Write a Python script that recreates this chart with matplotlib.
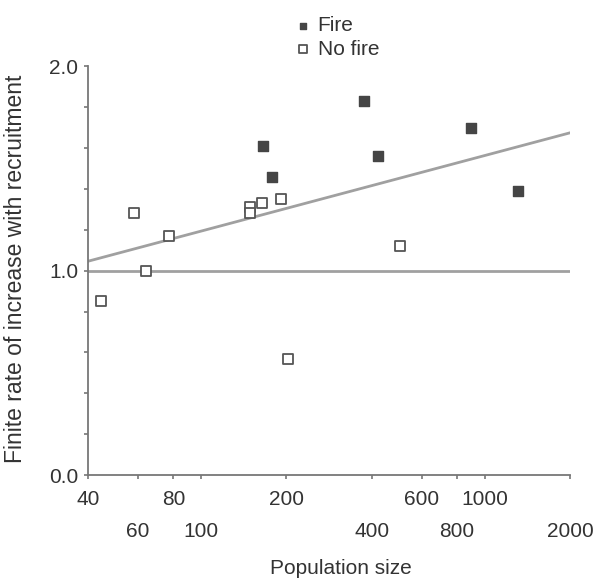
import matplotlib
matplotlib.use("Agg")
import matplotlib.pyplot as plt
import numpy as np

plt.rcParams['font.family'] = ['Liberation Sans', 'DejaVu Sans']

# population size and finite rate of increase
fire_pop = [166, 178, 377, 420, 897, 1312]
fire_rate = [1.61, 1.46, 1.83, 1.56, 1.70, 1.39]

nofire_pop = [44.6, 58.0, 64.1, 77.1, 148.6, 148.6, 164.7, 192, 202, 504]
nofire_rate = [0.85, 1.28, 1.00, 1.17, 1.31, 1.28, 1.33, 1.35, 0.57, 1.12]

# fitted line: rate = a + b*log10(pop)
fit_a = 0.453
fit_b = 0.370

upper_ticks = [40, 80, 200, 600, 1000]
lower_ticks = [60, 100, 400, 800, 2000]

grey_txt = '#333333'
line_col = '#a0a0a0'
axis_col = '#777777'
fs = 15

fig = plt.figure(figsize=(6.02, 5.81), dpi=100)
ax = fig.add_axes([0.146, 0.1824, 0.801, 0.7036])

xs = np.array([40, 2000])
ax.plot(xs, fit_a + fit_b*np.log10(xs), color=line_col, lw=2, zorder=1)
ax.axhline(1.0, color=line_col, lw=2, zorder=1)

ax.scatter(fire_pop, fire_rate, marker='s', s=50, c='#454545', edgecolors='#454545',
           linewidths=1, zorder=3, label='Fire')
ax.scatter(nofire_pop, nofire_rate, marker='s', s=58, c='white', edgecolors='#555555',
           linewidths=1.3, zorder=3, label='No fire')

ax.set_xscale('log')
ax.set_xlim(40, 2000)
ax.set_ylim(0, 2.0)

ax.set_xticks(upper_ticks)
ax.set_xticklabels([str(t) for t in upper_ticks])
ax.set_xticks(lower_ticks, minor=True)
ax.set_xticklabels([str(t) for t in lower_ticks], minor=True)
ax.tick_params(axis='x', which='major', length=3, width=1.2, color=axis_col,
               labelsize=fs, labelcolor=grey_txt, pad=7.5)
ax.tick_params(axis='x', which='minor', length=3, width=1.2, color=axis_col,
               labelsize=fs, labelcolor=grey_txt, pad=30.5)

ax.set_yticks([0.0, 1.0, 2.0])
ax.set_yticklabels(['0.0', '1.0', '2.0'])
ax.set_yticks(np.arange(0.2, 2.0, 0.2), minor=True)
ax.tick_params(axis='y', which='both', length=3, width=1.2, color=axis_col,
               labelsize=fs, labelcolor=grey_txt, pad=4)

for s in ['top', 'right']:
    ax.spines[s].set_visible(False)
for s in ['left', 'bottom']:
    ax.spines[s].set_color(axis_col)
    ax.spines[s].set_linewidth(1.3)

ax.set_xlabel('Population size', fontsize=fs, color=grey_txt)
ax.xaxis.set_label_coords(0.525, -0.205)
ax.set_ylabel('Finite rate of increase with recruitment', fontsize=16.5, color=grey_txt)
ax.yaxis.set_label_coords(-0.127, 0.505)

leg = ax.legend(loc='upper left', bbox_to_anchor=(0.462, 0.997), bbox_transform=fig.transFigure,
                frameon=False, fontsize=fs, handletextpad=0.2, borderpad=0.2,
                labelspacing=0.22, markerscale=0.7, handlelength=1.0)
for t in leg.get_texts():
    t.set_color(grey_txt)

fig.savefig('out.png', dpi=100)
